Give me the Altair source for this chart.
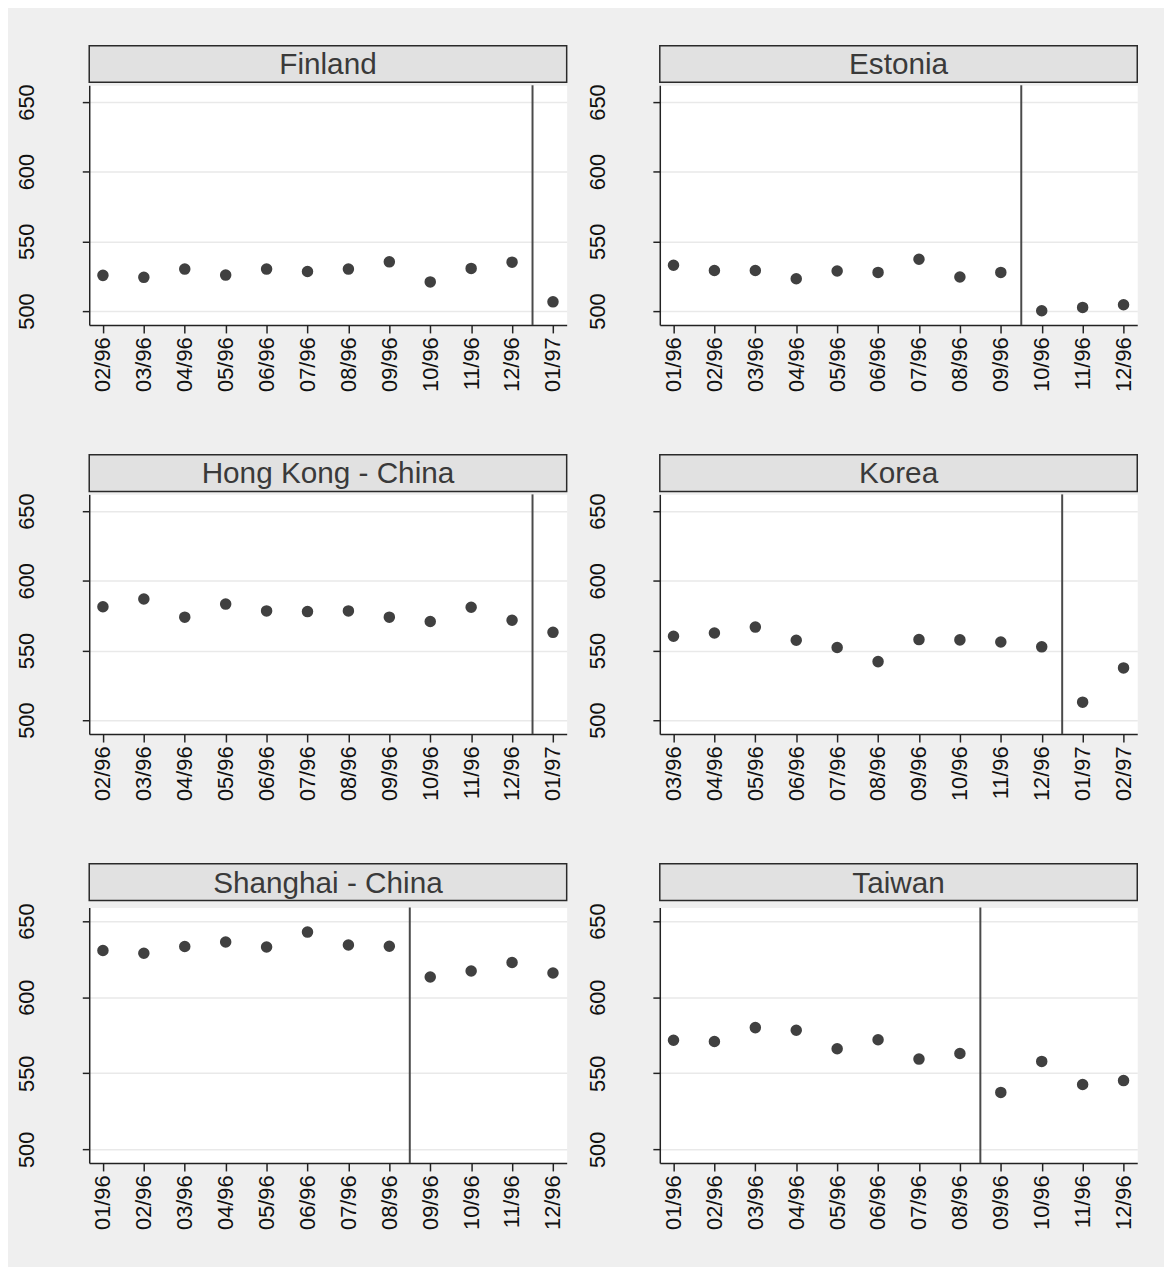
import altair as alt
import pandas as pd

# ---------------- data ----------------
FIN_NAME = "Finland"
FIN_MONTHS = ["02/96", "03/96", "04/96", "05/96", "06/96", "07/96", "08/96", "09/96", "10/96", "11/96", "12/96", "01/97"]
FIN_SCORES = [525.6, 524.2, 530.1, 525.8, 530.1, 528.4, 530.1, 535.3, 520.9, 530.6, 535.1, 506.6]
FIN_BREAK = 10.5

EST_NAME = "Estonia"
EST_MONTHS = ["01/96", "02/96", "03/96", "04/96", "05/96", "06/96", "07/96", "08/96", "09/96", "10/96", "11/96", "12/96"]
EST_SCORES = [532.9, 529.1, 529.1, 523.2, 528.7, 527.7, 537.2, 524.4, 527.7, 500.2, 502.6, 504.5]
EST_BREAK = 8.5

HKG_NAME = "Hong Kong - China"
HKG_MONTHS = ["02/96", "03/96", "04/96", "05/96", "06/96", "07/96", "08/96", "09/96", "10/96", "11/96", "12/96", "01/97"]
HKG_SCORES = [581.4, 586.9, 573.9, 583.3, 578.4, 577.9, 578.4, 573.9, 570.8, 581.0, 571.7, 563.0]
HKG_BREAK = 10.5

KOR_NAME = "Korea"
KOR_MONTHS = ["03/96", "04/96", "05/96", "06/96", "07/96", "08/96", "09/96", "10/96", "11/96", "12/96", "01/97", "02/97"]
KOR_SCORES = [560.2, 562.5, 566.8, 557.3, 552.1, 542.0, 557.8, 557.6, 556.1, 552.6, 512.9, 537.5]
KOR_BREAK = 9.5

SHA_NAME = "Shanghai - China"
SHA_MONTHS = ["01/96", "02/96", "03/96", "04/96", "05/96", "06/96", "07/96", "08/96", "09/96", "10/96", "11/96", "12/96"]
SHA_SCORES = [630.7, 628.9, 633.3, 636.3, 633.0, 642.8, 634.3, 633.5, 613.3, 617.2, 622.8, 615.9]
SHA_BREAK = 7.5

TWN_NAME = "Taiwan"
TWN_MONTHS = ["01/96", "02/96", "03/96", "04/96", "05/96", "06/96", "07/96", "08/96", "09/96", "10/96", "11/96", "12/96"]
TWN_SCORES = [571.7, 570.9, 580.0, 578.3, 566.1, 572.0, 559.3, 563.0, 537.4, 557.8, 542.6, 545.2]
TWN_BREAK = 7.5

Y_TICKS = [500, 550, 600, 650]

# ---------------- style ----------------
FONT = "Liberation Sans"
PANEL_W = 482
HEADER_H = 37
DOT = "#404040"
AXIS_C = "#222222"


def panel(name, months, scores, brk, plot_h, ydom):
    n = len(months)
    df = pd.DataFrame({"idx": list(range(n)), "month": months, "score": scores})
    arr = "[" + ",".join("'%s'" % m for m in months) + "]"
    xscale = alt.Scale(domain=[-0.335, n - 1 + 0.335], nice=False, zero=False)
    yscale = alt.Scale(domain=ydom, nice=False, zero=False)

    x_axis = alt.Axis(
        values=list(range(n)), labelExpr=arr + "[datum.value]", title=None, grid=False,
        labelAngle=270, labelAlign="right", labelBaseline="middle",
        tickSize=8, labelPadding=4, labelFontSize=22, labelColor="#111111",
        domainColor=AXIS_C, tickColor=AXIS_C, domainWidth=1.5, tickWidth=1.5,
        labelFont=FONT, labelOverlap=False, labelFlush=False,
    )
    y_axis = alt.Axis(
        values=Y_TICKS, title=None, grid=True, gridColor="#e9e9e9", gridWidth=1.5,
        labelAngle=270, labelAlign="center", labelBaseline="alphabetic",
        tickSize=7, labelPadding=49, labelFontSize=22, labelColor="#111111",
        domainColor=AXIS_C, tickColor=AXIS_C, domainWidth=1.5, tickWidth=1.5,
        labelFont=FONT, labelOverlap=False, labelFlush=False,
    )

    pts = alt.Chart(df).mark_circle(size=135, color=DOT, opacity=1).encode(
        x=alt.X("idx:Q", scale=xscale, axis=x_axis),
        y=alt.Y("score:Q", scale=yscale, axis=y_axis),
    )
    rule = alt.Chart(pd.DataFrame({"idx": [brk]})).mark_rule(color="#4a4a4a", strokeWidth=2).encode(
        x=alt.X("idx:Q", scale=xscale, axis=x_axis),
    )
    plot = alt.layer(pts, rule).properties(
        width=PANEL_W, height=plot_h,
        view=alt.ViewBackground(fill="white", stroke="transparent"),
    )

    header = alt.Chart(pd.DataFrame({"name": [name]})).mark_text(
        font=FONT, fontSize=30, color="#3a3a3a", baseline="alphabetic", align="center",
    ).encode(
        text="name:N", x=alt.value(PANEL_W / 2), y=alt.value(29),
    ).properties(
        width=PANEL_W, height=HEADER_H,
        view=alt.ViewBackground(fill="#e1e1e1", stroke="#2a2a2a", strokeWidth=1.5),
    )
    return alt.vconcat(header, plot, spacing=0)


row1 = alt.hconcat(
    panel(FIN_NAME, FIN_MONTHS, FIN_SCORES, FIN_BREAK, 242, [490, 662]),
    panel(EST_NAME, EST_MONTHS, EST_SCORES, EST_BREAK, 242, [490, 662]),
    spacing=18,
)
row2 = alt.hconcat(
    panel(HKG_NAME, HKG_MONTHS, HKG_SCORES, HKG_BREAK, 242, [490, 662]),
    panel(KOR_NAME, KOR_MONTHS, KOR_SCORES, KOR_BREAK, 242, [490, 662]),
    spacing=18,
)
row3 = alt.hconcat(
    panel(SHA_NAME, SHA_MONTHS, SHA_SCORES, SHA_BREAK, 258, [491, 659]),
    panel(TWN_NAME, TWN_MONTHS, TWN_SCORES, TWN_BREAK, 258, [491, 659]),
    spacing=18,
)

chart = alt.vconcat(row1, row2, row3, spacing=62).properties(
    background="#efefef",
    padding={"left": 7, "top": 31, "right": 26, "bottom": 34},
).configure(font=FONT)

chart.save("out.html", embed_options={"renderer": "svg", "actions": False})
